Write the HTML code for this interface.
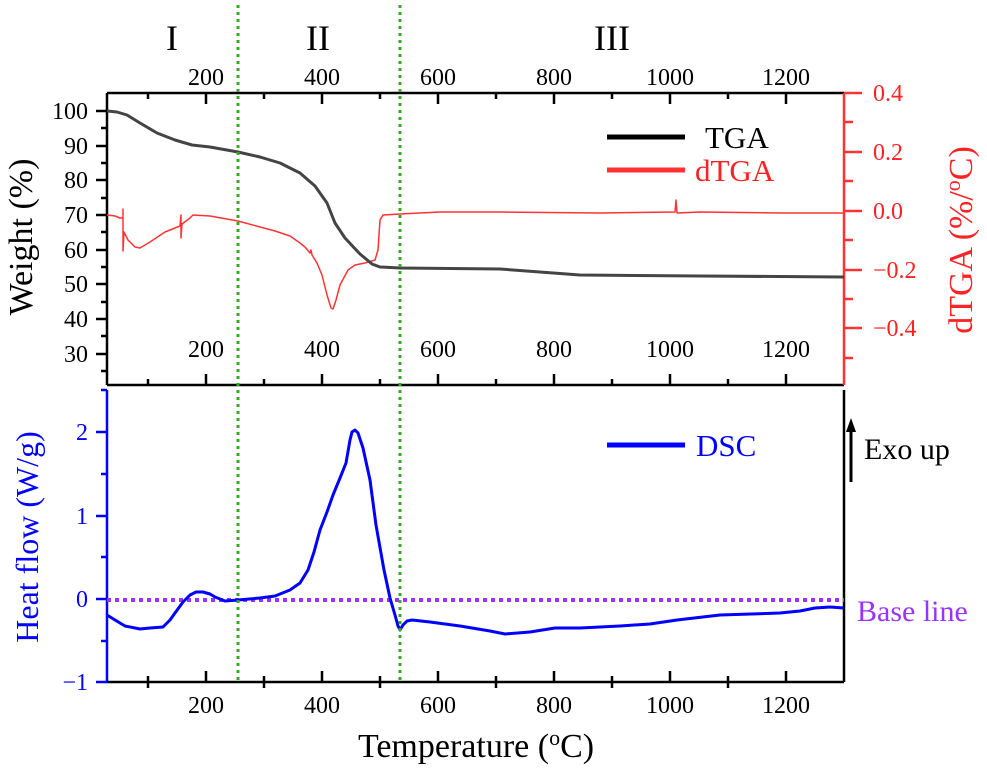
<!DOCTYPE html>
<html><head><meta charset="utf-8"><style>
html,body{margin:0;padding:0;background:#fff}
svg{display:block}
svg text{font-family:"Liberation Serif","Times New Roman",serif}
</style></head><body>
<svg width="987" height="780" viewBox="0 0 987 780" xmlns="http://www.w3.org/2000/svg">
<g font-size="36" text-anchor="middle" fill="#000">
<text x="172" y="50">I</text><text x="318" y="50">II</text><text x="612" y="50">III</text>
</g>
<g stroke="#000" stroke-width="2.5" fill="none">
<line x1="107" y1="93" x2="844" y2="93"/>
<line x1="107" y1="385" x2="844" y2="385"/>
<line x1="107" y1="93" x2="107" y2="385"/>
</g>
<g stroke="#000" stroke-width="2.5">
<line x1="148" y1="93" x2="148" y2="99"/><line x1="206" y1="93" x2="206" y2="104"/>
<line x1="264" y1="93" x2="264" y2="99"/><line x1="322" y1="93" x2="322" y2="104"/>
<line x1="380" y1="93" x2="380" y2="99"/><line x1="438" y1="93" x2="438" y2="104"/>
<line x1="496" y1="93" x2="496" y2="99"/><line x1="554" y1="93" x2="554" y2="104"/>
<line x1="612" y1="93" x2="612" y2="99"/><line x1="670" y1="93" x2="670" y2="104"/>
<line x1="728" y1="93" x2="728" y2="99"/><line x1="786" y1="93" x2="786" y2="104"/>
<line x1="148" y1="385" x2="148" y2="379"/><line x1="206" y1="385" x2="206" y2="374"/>
<line x1="264" y1="385" x2="264" y2="379"/><line x1="322" y1="385" x2="322" y2="374"/>
<line x1="380" y1="385" x2="380" y2="379"/><line x1="438" y1="385" x2="438" y2="374"/>
<line x1="496" y1="385" x2="496" y2="379"/><line x1="554" y1="385" x2="554" y2="374"/>
<line x1="612" y1="385" x2="612" y2="379"/><line x1="670" y1="385" x2="670" y2="374"/>
<line x1="728" y1="385" x2="728" y2="379"/><line x1="786" y1="385" x2="786" y2="374"/>
</g>
<g font-size="24" text-anchor="middle" fill="#000">
<text x="206" y="85">200</text><text x="322" y="85">400</text><text x="438" y="85">600</text><text x="554" y="85">800</text><text x="670" y="85">1000</text><text x="786" y="85">1200</text>
<text x="206" y="357">200</text><text x="322" y="357">400</text><text x="438" y="357">600</text><text x="554" y="357">800</text><text x="670" y="357">1000</text><text x="786" y="357">1200</text>
</g>
<g stroke="#000" stroke-width="2.5">
<line x1="96" y1="111" x2="107" y2="111"/><line x1="101" y1="128" x2="107" y2="128"/>
<line x1="96" y1="146" x2="107" y2="146"/><line x1="101" y1="163" x2="107" y2="163"/>
<line x1="96" y1="180" x2="107" y2="180"/><line x1="101" y1="198" x2="107" y2="198"/>
<line x1="96" y1="215" x2="107" y2="215"/><line x1="101" y1="232" x2="107" y2="232"/>
<line x1="96" y1="250" x2="107" y2="250"/><line x1="101" y1="267" x2="107" y2="267"/>
<line x1="96" y1="284" x2="107" y2="284"/><line x1="101" y1="302" x2="107" y2="302"/>
<line x1="96" y1="319" x2="107" y2="319"/><line x1="101" y1="336" x2="107" y2="336"/>
<line x1="96" y1="354" x2="107" y2="354"/><line x1="101" y1="371" x2="107" y2="371"/>
</g>
<g font-size="24" text-anchor="end" fill="#000">
<text x="88" y="119">100</text><text x="88" y="154">90</text><text x="88" y="188">80</text><text x="88" y="223">70</text><text x="88" y="258">60</text><text x="88" y="292">50</text><text x="88" y="327">40</text><text x="88" y="362">30</text>
</g>
<text transform="translate(32,237) rotate(-90)" font-size="34" text-anchor="middle">Weight (%)</text>
<g stroke="#ff3333" stroke-width="2.5">
<line x1="844" y1="93" x2="844" y2="385"/>
<line x1="844" y1="93" x2="862" y2="93"/><line x1="844" y1="122" x2="853" y2="122"/>
<line x1="844" y1="152" x2="862" y2="152"/><line x1="844" y1="181" x2="853" y2="181"/>
<line x1="844" y1="211" x2="862" y2="211"/><line x1="844" y1="240" x2="853" y2="240"/>
<line x1="844" y1="270" x2="862" y2="270"/><line x1="844" y1="299" x2="853" y2="299"/>
<line x1="844" y1="328" x2="862" y2="328"/><line x1="844" y1="358" x2="853" y2="358"/>
</g>
<g font-size="24" fill="#ff2222">
<text x="873" y="101">0.4</text><text x="873" y="160">0.2</text><text x="873" y="219">0.0</text><text x="873" y="278">−0.2</text><text x="873" y="336">−0.4</text>
</g>
<text transform="translate(972,240) rotate(-90)" font-size="34" text-anchor="middle" fill="#ff2222">dTGA (%/<tspan font-size="22" dy="-12">o</tspan><tspan dy="12">C)</tspan></text>
<polyline fill="none" stroke="#ff3333" stroke-width="1.5" stroke-linejoin="round" points="107,215 115,216 120,218 123,218 123,209 123,251 124,232 128,240 135,247 140,248 150,242 165,232 180,226 181,215 181,238 182,224 190,218 193,215 210,216 238,221 260,227 275,231 290,236 300,243 305,247 310,253 311,250 312,255 317,263 322,275 327,295 331,308 333,309 336,300 340,285 348,270 355,265 365,263 375,260 378,250 380,220 383,215 400,214 440,212 500,212 600,213 675,212 676,200 677,213 700,212 780,213 844,213"/>
<polyline fill="none" stroke="#444" stroke-width="3" stroke-linejoin="round" points="107,111 117,112 127,115 140,123 157,133 175,140 192,145 210,147 238,152 260,157 280,163 300,173 315,186 327,203 335,223 345,238 360,254 372,264 380,267 400,268 500,269 580,275 700,276 844,277"/>
<line x1="607" y1="137" x2="685" y2="137" stroke="#000" stroke-width="5"/>
<text x="705" y="148" font-size="31">TGA</text>
<line x1="607" y1="170" x2="685" y2="170" stroke="#ff3333" stroke-width="5"/>
<text x="695" y="181" font-size="31" fill="#ff2222">dTGA</text>

<g stroke="#0000ff" stroke-width="2.5">
<line x1="107" y1="390" x2="107" y2="682"/>
<line x1="101" y1="390" x2="107" y2="390"/>
<line x1="96" y1="432" x2="107" y2="432"/><line x1="101" y1="474" x2="107" y2="474"/>
<line x1="96" y1="516" x2="107" y2="516"/><line x1="101" y1="557" x2="107" y2="557"/>
<line x1="96" y1="599" x2="107" y2="599"/><line x1="101" y1="641" x2="107" y2="641"/>
<line x1="96" y1="682" x2="107" y2="682"/>
</g>
<g font-size="24" text-anchor="end" fill="#0000ff">
<text x="88" y="440">2</text><text x="88" y="524">1</text><text x="88" y="607">0</text><text x="88" y="690">−1</text>
</g>
<text transform="translate(38,537) rotate(-90)" font-size="32" text-anchor="middle" fill="#0000ff">Heat flow (W/g)</text>
<g stroke="#000" stroke-width="2.5">
<line x1="107" y1="682" x2="844" y2="682"/>
<line x1="844" y1="390" x2="844" y2="682"/>
<line x1="148" y1="676" x2="148" y2="688"/><line x1="206" y1="671" x2="206" y2="682"/>
<line x1="264" y1="676" x2="264" y2="688"/><line x1="322" y1="671" x2="322" y2="682"/>
<line x1="380" y1="676" x2="380" y2="688"/><line x1="438" y1="671" x2="438" y2="682"/>
<line x1="496" y1="676" x2="496" y2="688"/><line x1="554" y1="671" x2="554" y2="682"/>
<line x1="612" y1="676" x2="612" y2="688"/><line x1="670" y1="671" x2="670" y2="682"/>
<line x1="728" y1="676" x2="728" y2="688"/><line x1="786" y1="671" x2="786" y2="682"/>
</g>
<g font-size="24" text-anchor="middle" fill="#000">
<text x="206" y="713">200</text><text x="322" y="713">400</text><text x="438" y="713">600</text><text x="554" y="713">800</text><text x="670" y="713">1000</text><text x="786" y="713">1200</text>
</g>
<text x="476" y="757" font-size="34" text-anchor="middle">Temperature (<tspan font-size="22" dy="-12">o</tspan><tspan dy="12">C)</tspan></text>
<line x1="107" y1="600" x2="844" y2="600" stroke="#9933ff" stroke-width="4" stroke-dasharray="4,4"/>
<polyline fill="none" stroke="#0000ff" stroke-width="3" stroke-linejoin="round" points="107,615 115,620 125,626 140,629 150,628 163,627 170,620 175,613 183,602 190,595 196,592 203,592 210,594 215,597 225,601 238,600 260,598 275,596 290,590 300,583 308,570 314,552 320,530 327,512 333,495 340,478 346,463 350,440 352,432 355,430 358,433 363,448 370,480 376,525 384,570 390,598 395,615 398,626 400,630 403,625 407,621 412,620 430,622 460,626 490,631 505,634 530,632 555,628 580,628 620,626 650,624 677,620 720,615 780,613 800,611 815,608 830,607 844,608"/>
<g stroke="#33aa22" stroke-width="3" stroke-dasharray="3,4">
<line x1="238" y1="5" x2="238" y2="682"/>
<line x1="400" y1="5" x2="400" y2="682"/>
</g>
<line x1="607" y1="445" x2="685" y2="445" stroke="#0000ff" stroke-width="5"/>
<text x="696" y="456" font-size="31" fill="#0000ff">DSC</text>
<line x1="851" y1="482" x2="851" y2="428" stroke="#000" stroke-width="3"/>
<polygon points="851,418 846,432 856,432" fill="#000"/>
<text x="864" y="459" font-size="30">Exo up</text>
<text x="857" y="621" font-size="30" fill="#9933ff">Base line</text>
</svg>
</body></html>
